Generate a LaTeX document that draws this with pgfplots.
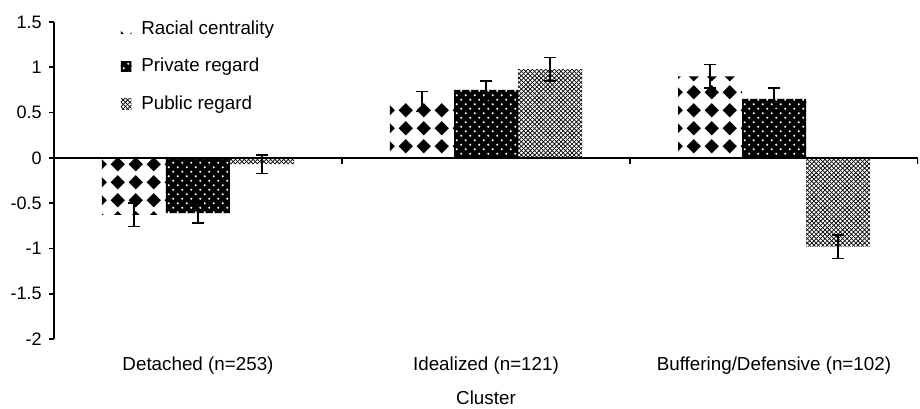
\documentclass[border=0pt]{standalone}
\usepackage{fontspec}
\setmainfont{Liberation Sans}
\usepackage{pgfplots}
\pgfplotsset{compat=1.18}
\usetikzlibrary{patterns}

\pgfdeclarepatternformonly{diamondgrid}{\pgfpointorigin}{\pgfpoint{9.1pt}{9.1pt}}{\pgfpoint{9.1pt}{9.1pt}}{%
  \pgfpathmoveto{\pgfpoint{4.55pt}{0.85pt}}%
  \pgfpathlineto{\pgfpoint{8.25pt}{4.55pt}}%
  \pgfpathlineto{\pgfpoint{4.55pt}{8.25pt}}%
  \pgfpathlineto{\pgfpoint{0.85pt}{4.55pt}}%
  \pgfpathclose
  \pgfusepath{fill}}

\pgfdeclarepatterninherentlycolored{whitedots}{\pgfpoint{-0.3pt}{-0.3pt}}{\pgfpoint{4.8pt}{4.8pt}}{\pgfpoint{4.5pt}{4.5pt}}{%
  \pgfsetfillcolor{black}%
  \pgfpathrectangle{\pgfpoint{-0.3pt}{-0.3pt}}{\pgfpoint{5.1pt}{5.1pt}}%
  \pgfusepath{fill}%
  \pgfsetfillcolor{white}%
  \pgfpathcircle{\pgfpoint{1.125pt}{1.125pt}}{0.55pt}%
  \pgfpathcircle{\pgfpoint{3.375pt}{3.375pt}}{0.55pt}%
  \pgfusepath{fill}}

\pgfdeclarepatternformonly{finecheck}{\pgfpoint{-0.5pt}{-0.5pt}}{\pgfpoint{2.7pt}{2.7pt}}{\pgfpoint{2.2pt}{2.2pt}}{%
  \pgfsetlinewidth{0.33pt}%
  \pgfpathmoveto{\pgfpoint{0pt}{0pt}}\pgfpathlineto{\pgfpoint{2.2pt}{2.2pt}}%
  \pgfpathmoveto{\pgfpoint{0pt}{2.2pt}}\pgfpathlineto{\pgfpoint{2.2pt}{0pt}}%
  \pgfusepath{stroke}}

\begin{document}
\begin{tikzpicture}[font=\fontsize{9.4}{11.3}\selectfont]
\begin{axis}[name=A,
  scale only axis, width=432pt, height=158.5pt,
  ybar=0pt, bar width=32pt,
  xmin=-0.5, xmax=2.5, ymin=-2, ymax=1.5,
  xtick={0,1,2},
  xticklabels={Detached (n=253), Idealized (n=121), Buffering/Defensive (n=102)},
  axis x line*=bottom, x axis line style={draw=none},
  major x tick style={draw=none},
  xticklabel style={anchor=north, yshift=-3pt},
  xlabel={Cluster},
  xlabel style={yshift=-1pt},
  axis y line*=left,
  y axis line style={line width=0.8pt},
  ytick={-2,-1.5,-1,-0.5,0,0.5,1,1.5},
  yticklabel style={/pgf/number format/assume math mode=true, font=\fontsize{9}{11}\selectfont},
  tick align=outside, major tick length=2.6pt,
  major y tick style={line width=0.8pt, black},
  legend style={draw=none, fill=none, at={(rel axis cs:0.070,1.0)}, anchor=north west,
    yshift=5pt,
    row sep=6.5pt, font=\fontsize{9.4}{11.3}\selectfont,
    /tikz/every even column/.append style={column sep=1pt},
    /tikz/every odd column/.append style={column sep=3pt}},
  legend cell align=left,
  legend image code/.code={\path[#1,draw=none] (0pt,-2.6pt) rectangle (5.2pt,2.6pt);},
  error bars/y dir=both, error bars/y explicit,
  error bars/error mark options={rotate=90, mark size=3pt, line width=0.7pt, black},
  error bars/error bar style={line width=0.7pt, black},
]
\addplot[draw=none, pattern=diamondgrid, pattern color=black]
  coordinates {(0,-0.63) +- (0,0.13) (1,0.62) +- (0,0.11) (2,0.90) +- (0,0.13)};
\addplot[draw=none, pattern=whitedots]
  coordinates {(0,-0.61) +- (0,0.11) (1,0.75) +- (0,0.10) (2,0.65) +- (0,0.12)};
\addplot[draw=none, pattern=finecheck, pattern color=black]
  coordinates {(0,-0.07) +- (0,0.10) (1,0.98) +- (0,0.13) (2,-0.98) +- (0,0.13)};
\legend{Racial centrality, Private regard, Public regard}
\draw[line width=0.8pt] (axis cs:-0.5,0) -- (axis cs:2.5,0);
\draw[line width=0.8pt] (axis cs:0.5,0) -- ([yshift=-3pt]axis cs:0.5,0);
\draw[line width=0.8pt] (axis cs:1.5,0) -- ([yshift=-3pt]axis cs:1.5,0);
\draw[line width=0.8pt] (axis cs:2.5,0) -- ([yshift=-3pt]axis cs:2.5,0);
\end{axis}
\pgfresetboundingbox
\path[use as bounding box] ([shift={(-27pt,-34.5pt)}]A.south west) rectangle ([shift={(1pt,11pt)}]A.north east);
\end{tikzpicture}
\end{document}
